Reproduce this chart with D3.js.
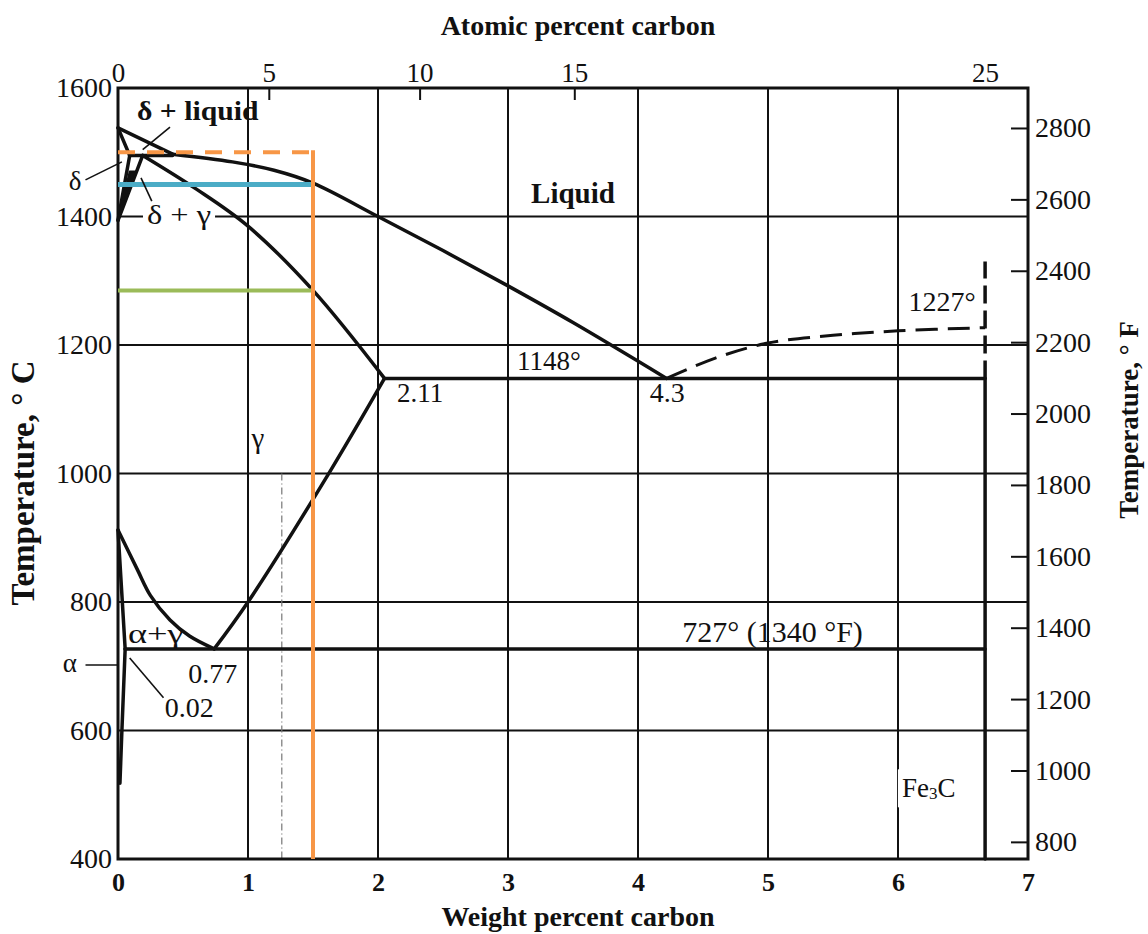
<!DOCTYPE html>
<html>
<head>
<meta charset="utf-8">
<script src="https://cdn.jsdelivr.net/npm/d3@7/dist/d3.min.js"></script>
<style>
  body { margin: 0; background: #fff; }
  text { font-family: "Liberation Serif", "Times New Roman", serif; fill: #111; }
</style>
</head>
<body>
<script>
// tick labels
var wtTicks = [0, 1, 2, 3, 4, 5, 6, 7];
var tempCTicks = [400, 600, 800, 1000, 1200, 1400, 1600];
var tempFTicks = [800, 1000, 1200, 1400, 1600, 1800, 2000, 2200, 2400, 2600, 2800];
var atTicks = [0, 5, 10, 15, 25];
var atTickWt = [0, 1.16, 2.32, 3.51, 6.67];   // where the atomic % labels fall on the wt % axis

// phase boundaries: weight % C and temperature in °C
var liquidusWt = [0, 0.42, 0.88, 1.2, 1.5, 2.0, 2.5, 3.0, 3.5, 4.22];
var liquidusT  = [1538, 1497, 1485, 1472, 1452, 1400, 1347, 1292, 1235, 1148];
var deltaSolidusWt = [0, 0.09];
var deltaSolidusT  = [1538, 1495];
var deltaGammaWt = [0, 0.09];            // delta / (delta + gamma)
var deltaGammaT  = [1394, 1495];
var gammaDeltaWt = [0, 0.19];            // (delta + gamma) / gamma
var gammaDeltaT  = [1394, 1495];
var peritecticWt = [0.09, 0.42];
var peritecticT  = [1495, 1495];
var solidusWt = [0.19, 0.6, 1.0, 1.5, 2.05];
var solidusT  = [1495, 1443, 1385, 1285, 1148];
var acmWt = [0.74, 1.0, 1.63, 2.05];
var acmT  = [727, 800, 1003, 1148];
var a3Wt = [0, 0.15, 0.25, 0.4, 0.55, 0.74];
var a3T  = [912, 850, 810, 772, 747, 727];
var alphaGammaWt = [0, 0.055];
var alphaGammaT  = [912, 727];
var solvusWt = [0.055, 0.03, 0.015];
var solvusT  = [727, 600, 518];
var eutecticWt = [2.05, 6.67];
var eutecticT  = [1148, 1148];
var eutectoidWt = [0.055, 6.67];
var eutectoidT  = [727, 727];
var cementiteWt = [6.67, 6.67];
var cementiteT  = [400, 1148];
var cementiteDashT = [1148, 1330];
var graphiteWt = [4.22, 4.6, 5.0, 5.5, 6.0, 6.67];
var graphiteT  = [1148, 1180, 1203, 1215, 1222, 1227];

// coloured marks drawn over the diagram
var markWt = 1.5;
var markTemps = [1500, 1450, 1285];
var markColors = ["#f79646", "#4bacc6", "#9bbb59"];

var width = 1148, height = 934;

var svg = d3.select("body").append("svg")
    .attr("width", width)
    .attr("height", height);

// scales
var x = d3.scaleLinear().domain([0, 7]).range([118, 1028]),
    y = d3.scaleLinear().domain([400, 1600]).range([859, 88]),
    yF = d3.scaleLinear().domain([400 * 9 / 5 + 32, 1600 * 9 / 5 + 32]).range([859, 88]),
    xAt = d3.scaleLinear().domain(atTicks).range(atTickWt.map(x));

// grid
var grid = svg.append("g").attr("stroke", "#111").attr("stroke-width", 2);
grid.selectAll(".vgrid")
    .data(wtTicks.slice(1, -1))
  .enter().append("line")
    .attr("class", "vgrid")
    .attr("x1", x).attr("x2", x)
    .attr("y1", y(400)).attr("y2", y(1600));
grid.selectAll(".hgrid")
    .data(tempCTicks.slice(1, -1))
  .enter().append("line")
    .attr("class", "hgrid")
    .attr("x1", x(0)).attr("x2", x(7))
    .attr("y1", y).attr("y2", y);

// faint dash-dot line left over in the scan
svg.append("line")
    .attr("x1", x(1.26)).attr("x2", x(1.26))
    .attr("y1", y(1000)).attr("y2", y(400))
    .attr("stroke", "#777").attr("stroke-width", 1.2)
    .attr("stroke-dasharray", "7,3,1,3");

var masks = svg.append("g");

// frame
svg.append("rect")
    .attr("x", x(0)).attr("y", y(1600))
    .attr("width", x(7) - x(0)).attr("height", y(400) - y(1600))
    .attr("fill", "none").attr("stroke", "#111").attr("stroke-width", 3);

// axes
function styleAxis(g, size, weight) {
  g.select(".domain").remove();
  g.attr("font-size", size).attr("font-family", null).attr("color", "#111");
  g.selectAll("text").attr("font-weight", weight);
  g.selectAll(".tick line").attr("stroke-width", 2);
}

svg.append("g")
    .attr("transform", "translate(0," + y(400) + ")")
    .call(d3.axisBottom(x).tickValues(wtTicks).tickSize(0).tickPadding(14).tickFormat(d3.format("d")))
    .call(styleAxis, 26, "bold");

svg.append("g")
    .attr("transform", "translate(" + x(0) + ",0)")
    .call(d3.axisLeft(y).tickValues(tempCTicks).tickSize(0).tickPadding(6).tickFormat(d3.format("d")))
    .call(styleAxis, 28, "normal");

svg.append("g")
    .attr("transform", "translate(" + x(7) + ",0)")
    .call(d3.axisRight(yF).tickValues(tempFTicks).tickSizeInner(-17).tickSizeOuter(0).tickPadding(7).tickFormat(d3.format("d")))
    .call(styleAxis, 28, "normal");

var topAxis = svg.append("g")
    .attr("transform", "translate(0," + y(1600) + ")")
    .call(d3.axisTop(xAt).tickValues(atTicks).tickSizeInner(-12).tickSizeOuter(0).tickPadding(6).tickFormat(d3.format("d")))
    .call(styleAxis, 27, "normal");
topAxis.selectAll(".tick line").filter(d => d == 0 || d == 25).remove();

// axis titles
svg.append("text")
    .attr("x", 578).attr("y", 35)
    .attr("text-anchor", "middle").attr("font-size", 28).attr("font-weight", "bold")
    .text("Atomic percent carbon");
svg.append("text")
    .attr("x", 578).attr("y", 926)
    .attr("text-anchor", "middle").attr("font-size", 28).attr("font-weight", "bold")
    .text("Weight percent carbon");
svg.append("text")
    .attr("transform", "translate(34,483) rotate(-90)")
    .attr("text-anchor", "middle").attr("font-size", 33).attr("font-weight", "bold")
    .text("Temperature, ° C");
svg.append("text")
    .attr("transform", "translate(1138,420) rotate(-90)")
    .attr("text-anchor", "middle").attr("font-size", 27).attr("font-weight", "bold")
    .text("Temperature, ° F");

// phase boundaries
var pts = (wt, t) => wt.map((w, i) => [w, t[i]]);
var line = d3.line().x(d => x(d[0])).y(d => y(d[1]));
var smooth = d3.line().x(d => x(d[0])).y(d => y(d[1])).curve(d3.curveCatmullRom.alpha(0.5));

var phase = svg.append("g")
    .attr("fill", "none").attr("stroke", "#111")
    .attr("stroke-width", 3.5).attr("stroke-linejoin", "round").attr("stroke-linecap", "round");

[
  [line, pts(liquidusWt.slice(0, 2), liquidusT.slice(0, 2))],
  [smooth, pts(liquidusWt.slice(1), liquidusT.slice(1))],
  [line, pts(deltaSolidusWt, deltaSolidusT)],
  [line, pts(deltaGammaWt, deltaGammaT)],
  [line, pts(gammaDeltaWt, gammaDeltaT)],
  [line, pts(peritecticWt, peritecticT)],
  [smooth, pts(solidusWt, solidusT)],
  [smooth, pts(acmWt, acmT)],
  [smooth, pts(a3Wt, a3T)],
  [line, pts(alphaGammaWt, alphaGammaT)],
  [line, pts(solvusWt, solvusT)],
  [line, pts(eutecticWt, eutecticT)],
  [line, pts(eutectoidWt, eutectoidT)],
  [line, pts(cementiteWt, cementiteT)]
].forEach(function(p) {
  phase.append("path").attr("d", p[0](p[1]));
});

// the narrow delta + gamma wedge prints almost solid near 1394°
phase.append("path")
    .attr("d", line([[0, 1394], [0.09, 1470], [0.14, 1470], [0, 1394]]))
    .attr("fill", "#111").attr("stroke-width", 2);

// dashed boundaries
phase.append("path")
    .attr("d", line(pts(cementiteWt, cementiteDashT)))
    .attr("stroke-dasharray", "18,7").attr("stroke-linecap", "butt");
phase.append("path")
    .attr("d", smooth(pts(graphiteWt, graphiteT)))
    .attr("stroke-width", 3).attr("stroke-dasharray", "22,10").attr("stroke-linecap", "butt");

// coloured marks
var marks = svg.append("g").attr("fill", "none");
marks.selectAll(".hmark")
    .data(markTemps)
  .enter().append("line")
    .attr("class", "hmark")
    .attr("x1", x(0)).attr("x2", x(markWt))
    .attr("y1", y).attr("y2", y)
    .attr("stroke", (d, i) => markColors[i])
    .attr("stroke-width", (d, i) => i == 1 ? 5 : 4)
    .attr("stroke-dasharray", (d, i) => i == 0 ? "17,12" : null);
marks.append("line")
    .attr("x1", x(markWt)).attr("x2", x(markWt))
    .attr("y1", y(markTemps[0]) - 2).attr("y2", y(400))
    .attr("stroke", markColors[0]).attr("stroke-width", 4);

// labels
var labels = svg.append("g");
function label(wt, t, s, size, opts) {
  opts = opts || {};
  var el = labels.append("text")
      .attr("transform", "translate(" + x(wt) + "," + y(t) + ") scale(" + (opts.sx || 1) + ",1)")
      .attr("font-size", size)
      .attr("font-weight", opts.weight || "normal")
      .attr("text-anchor", opts.anchor || "start")
      .text(s);
  if (opts.mask) {
    var b = el.node().getBBox(), sx = opts.sx || 1;
    masks.append("rect")
        .attr("x", x(wt) + b.x * sx - 4).attr("y", y(t) + b.y - 2)
        .attr("width", b.width * sx + 8).attr("height", b.height + 4)
        .attr("fill", "#fff");
  }
  return el;
}
function leader(w1, t1, w2, t2) {
  labels.append("line")
      .attr("x1", x(w1)).attr("y1", y(t1))
      .attr("x2", x(w2)).attr("y2", y(t2))
      .attr("stroke", "#111").attr("stroke-width", 1.6);
}

label(0.146, 1550, "δ + liquid", 27, {weight: "bold", sx: 1.1});
leader(0.4, 1539, 0.19, 1504);
label(-0.33, 1441, "δ", 27, {anchor: "middle"});
leader(-0.25, 1457, 0.03, 1485);
label(0.223, 1388, "δ + γ", 27, {mask: true, sx: 1.2});
leader(0.26, 1424, 0.177, 1460);
label(3.5, 1421, "Liquid", 29, {weight: "bold", anchor: "middle"});
label(1.077, 1040, "γ", 29, {anchor: "middle"});
label(3.07, 1161, "1148°", 27);
label(2.146, 1111, "2.11", 27);
label(4.09, 1111, "4.3", 28);
label(6.08, 1253, "1227°", 28);
label(4.34, 738, "727° (1340 °F)", 30);
label(0.077, 736, "α+γ", 28, {sx: 1.3});
label(-0.37, 691, "α", 27, {anchor: "middle"});
leader(-0.25, 702, 0, 702);
label(0.54, 674, "0.77", 28);
label(0.36, 621, "0.02", 28);
leader(0.09, 713, 0.35, 651);

var fe = label(6.03, 496, "Fe", 27);
fe.append("tspan").attr("font-size", 17).attr("dy", 2).text("3");
fe.append("tspan").attr("dy", -2).text("C");
var fb = fe.node().getBBox();
masks.append("rect")
    .attr("x", x(6.03) + fb.x - 4).attr("y", y(496) + fb.y - 4)
    .attr("width", fb.width + 8).attr("height", fb.height + 8)
    .attr("fill", "#fff");
</script>
</body>
</html>
